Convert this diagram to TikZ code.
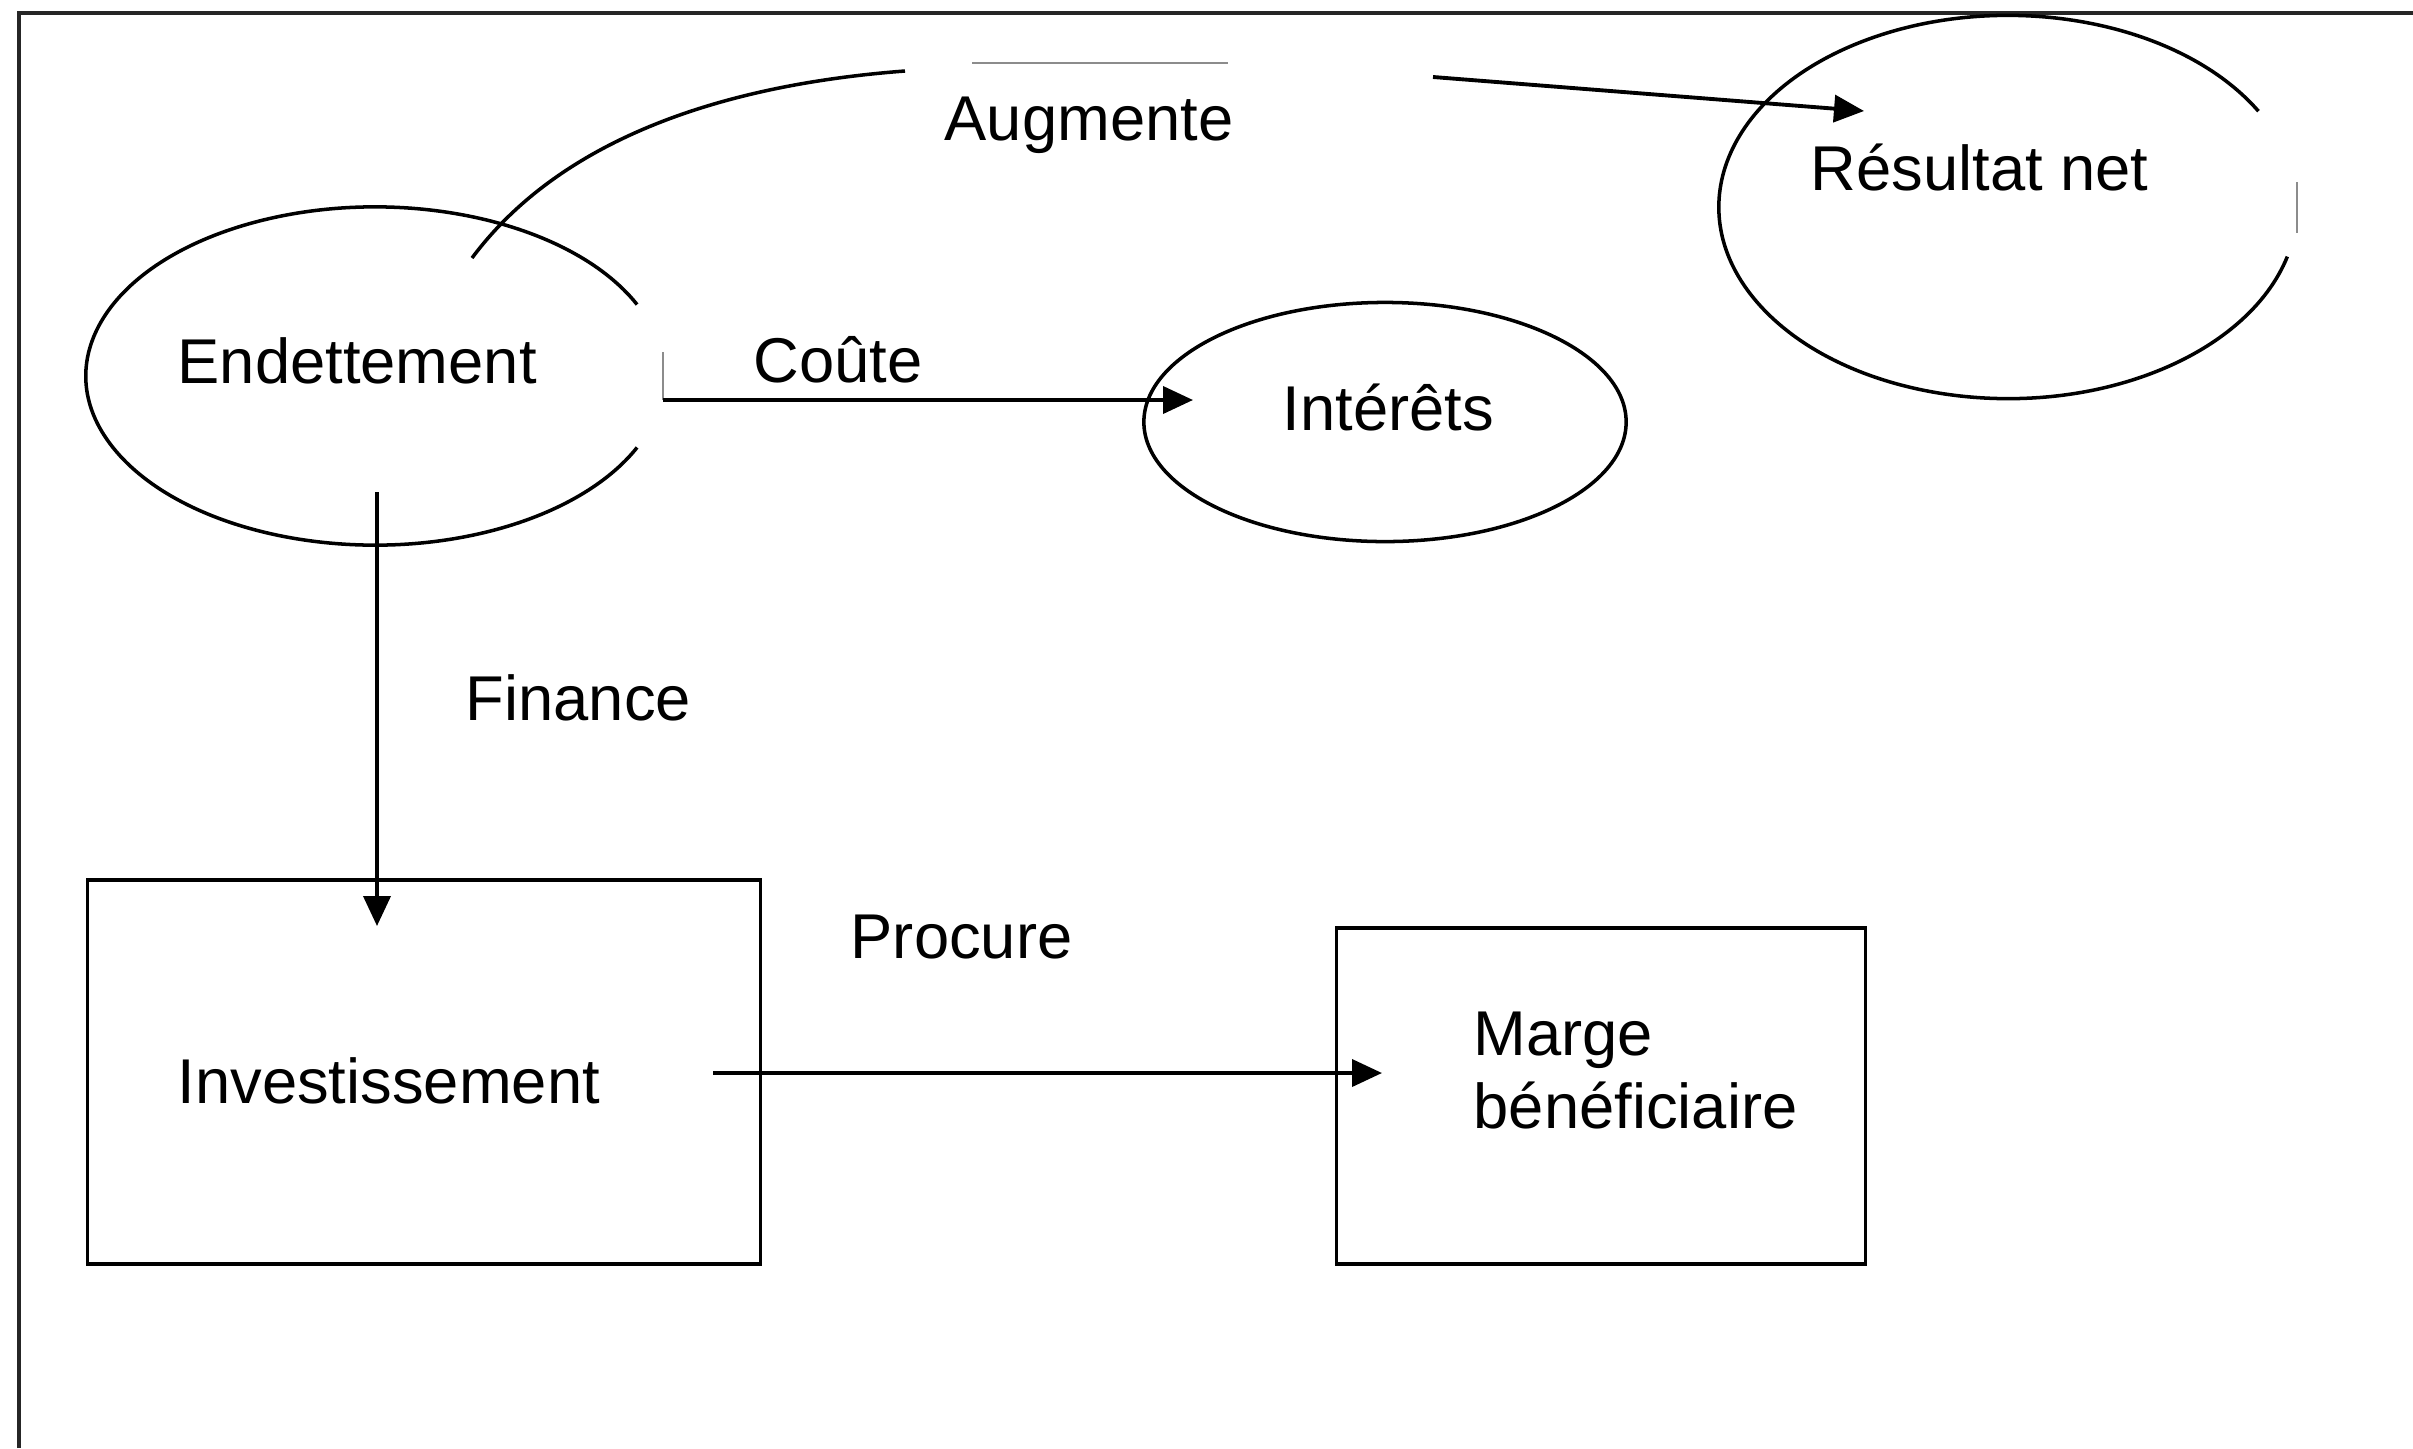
\documentclass[tikz,border=0pt]{standalone}
\usepackage{fontspec}
\setmainfont{Liberation Sans}
\usepackage{tikz}
\usetikzlibrary{calc, shapes.geometric, arrows.meta}
\tikzstyle{bulle}  = [ellipse, inner sep=0pt]
\tikzstyle{boite}  = [rectangle, draw=black, line width=1pt, inner sep=0pt]
\tikzstyle{texte}  = [anchor=base west, inner sep=0pt, font=\fontsize{18}{20.5}\selectfont]
\tikzstyle{trait}  = [line width=1pt]
\tikzstyle{fleche} = [line width=1.1pt, -{Triangle[length=0.3cm, width=0.27cm]}]
\tikzstyle{bavure} = [line width=0.5pt, black!45]
\tikzstyle{cadre}  = [line width=1.2pt, black!85]

\begin{document}
\begin{tikzpicture}[x=0.01cm, y=-0.01cm]
    \useasboundingbox (0,0) rectangle (2413,1448);
    \draw [cadre] (19,1448) -- (19,13) -- (2413,13);

    % formes
    \node (endet)    [bulle, minimum width=5.78cm, minimum height=3.38cm] at (375,376) {};
    \node (interets) [bulle, draw, trait, minimum width=4.82cm, minimum height=2.39cm] at (1385,422) {};
    \node (resultat) [bulle, minimum width=5.78cm, minimum height=3.83cm] at (2008,207) {};
    \node (invest)   [boite, minimum width=6.73cm, minimum height=3.84cm] at (424,1072) {};
    \node (marge)    [boite, minimum width=5.29cm, minimum height=3.36cm] at (1601,1096) {};

    % contours ouverts a droite
    \draw [trait] (endet.center) ++(25:2.89cm and 1.69cm)
        arc [start angle=25, end angle=335, x radius=2.89cm, y radius=1.69cm];
    \draw [trait] (resultat.center) ++(30:2.89cm and 1.915cm)
        arc [start angle=30, end angle=345, x radius=2.89cm, y radius=1.915cm];
    \draw [bavure] (2297,182) -- (2297,233);

    % textes
    \node (endet-txt)    [texte] at (177,383)  {Endettement};
    \node (interets-txt) [texte] at (1282,430) {Intérêts};
    \node (resultat-txt) [texte] at (1810,190) {Résultat net};
    \node (invest-txt)   [texte] at (177,1103) {Investissement};
    \node (marge-txt)    [texte, align=left] at (1473,1128) {Marge\\bénéficiaire};

    % etiquettes des liens
    \node (augmente) [texte] at (944,140) {Augmente};
    \node (coute)    [texte] at (753,382) {Coûte};
    \node (finance)  [texte] at (465,720) {Finance};
    \node (procure)  [texte] at (850,958) {Procure};

    % liens
    \coordinate (aug-depart) at (472,258);
    \coordinate (aug-haut)   at (905,71);
    \coordinate (aug-a)      at (972,63);
    \coordinate (aug-b)      at (1228,63);
    \coordinate (aug-suite)  at (1433,77);
    \coordinate (aug-pointe) at (1864,111);
    \draw [trait] (aug-depart) .. controls (560,140) and (720,85) .. (aug-haut);
    \draw [bavure] (aug-a) -- (aug-b);
    \draw [fleche] (aug-suite) -- (aug-pointe);

    \coordinate (coute-tic)    at (663,352);
    \coordinate (coute-coin)   at (663,400);
    \coordinate (coute-pointe) at (1193,400);
    \draw [bavure] (coute-tic) -- (coute-coin);
    \draw [fleche] (coute-coin) -- (coute-pointe);

    \coordinate (fin-depart) at (377,492);
    \coordinate (fin-pointe) at (377,926);
    \draw [fleche] (fin-depart) -- (fin-pointe);

    \coordinate (proc-depart) at (713,1073);
    \coordinate (proc-pointe) at (1382,1073);
    \draw [fleche] (proc-depart) -- (proc-pointe);

\end{tikzpicture}
\end{document}
